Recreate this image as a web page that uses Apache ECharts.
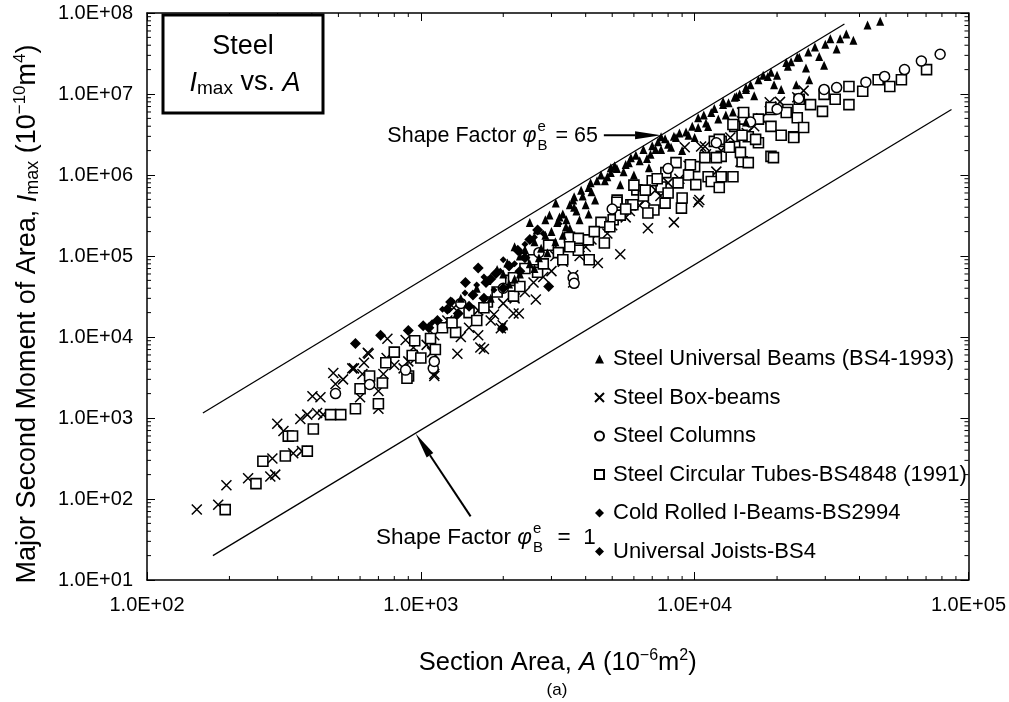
<!DOCTYPE html>
<html><head><meta charset="utf-8">
<script src="https://cdn.jsdelivr.net/npm/echarts@6/dist/echarts.min.js"></script>
<style>html,body{margin:0;padding:0;background:#fff}#c{width:1009px;height:702px}</style>
</head><body><div id="c"></div>
<script>
const FONT = "'Liberation Sans', Arial, Helvetica, sans-serif";

// ---- axis ticks ----
const xTicks = [1e2, 1e3, 1e4, 1e5];
const xTickLabels = ['1.0E+02', '1.0E+03', '1.0E+04', '1.0E+05'];
const yTicks = [1e1, 1e2, 1e3, 1e4, 1e5, 1e6, 1e7, 1e8];
const yTickLabels = ['1.0E+01', '1.0E+02', '1.0E+03', '1.0E+04', '1.0E+05', '1.0E+06', '1.0E+07', '1.0E+08'];
const minorMult = [2, 3, 4, 5, 6, 7, 8, 9];

// ---- series names ----
const seriesNames = [
  'Steel Universal Beams (BS4-1993)',
  'Steel Box-beams',
  'Steel Columns',
  'Steel Circular Tubes-BS4848 (1991)',
  'Cold Rolled I-Beams-BS2994',
  'Universal Joists-BS4'
];

// ---- data [A (1e-6 m2), Imax (1e-10 m4)] ----
const universalBeams = [
  [1600,4.0e4],[1900,6.8e4],[2070,8.2e4],[2300,1.0e5],[2500,2.6e5],[2600,1.5e5],[2750,1.25e5],[2850,1.8e5],[2850,2.8e5],[3000,2.0e5],
  [3110,4.5e5],[3210,3.03e5],[3300,3.3e5],[3390,2.3e5],[3400,2.8e5],[3600,4.9e5],[3630,4.0e5],[3630,5.4e5],[3700,3.6e5],[3850,6.5e5],
  [4000,4.3e5],[4170,8.0e5],[4200,6.2e5],[4330,4.9e5],[4550,1.0e6],[4700,8.5e5],[4940,1.07e6],[4940,1.23e6],[5200,1.2e6],[5350,7.6e5],
  [5500,1.1e6],[5750,1.42e6],[5850,1.63e6],[6000,1.0e6],[6300,1.5e6],[6500,2.06e6],[6810,1.23e6],[6900,1.8e6],[7200,2.06e6],[7350,2.57e6],
  [7540,2.06e6],[7540,2.97e6],[8000,2.4e6],[8400,3.0e6],[8550,2.9e6],[9000,2.0e6],[9300,3.4e6],[9500,3.1e6],[10000,2.9e6],[10300,3.86e6],
  [10300,5.1e6],[11000,4.4e6],[11200,3.98e6],[11500,5.9e6],[12200,4.9e6],[12700,7.4e6],[12700,8.1e6],[13000,5.5e6],[13800,6.0e6],[14000,9.1e6],
  [14200,9.3e6],[15400,4.5e6],[15400,1.14e7],[15400,1.2e7],[16500,9.5e6],[17100,1.5e7],[18500,1.65e7],[19500,1.3e7],[20700,1.14e7],[21600,2.45e7],
  [21900,2.2e7],[23500,1.3e7],[23700,2.85e7],[24100,2.85e7],[25500,2.1e7],[26200,1.5e7],[27500,3.8e7],[28500,2.9e7],[29700,2.26e7],[31300,4.8e7],
  [33000,3.6e7],[35800,5.5e7],[38000,4.6e7],[42800,7.1e7],[47600,7.9e7],
  [1400,3.0e4],[1750,5.0e4],[2000,6.0e4],[2200,1.3e5],[2400,1.2e5],[2650,2.1e5],[2950,3.2e5],[3150,2.6e5],[3500,4.3e5],[3900,5.5e5],
  [4100,7.0e5],[4400,8.5e5],[4800,9.5e5],[5100,1.3e6],[5600,1.35e6],[6100,1.75e6],[6700,1.6e6],[7000,2.3e6],[7800,2.8e6],[8200,2.2e6],
  [8800,3.3e6],[9800,4.0e6],[10800,5.5e6],[11800,6.6e6],[13300,7.8e6],[14600,1.0e7],[16000,1.3e7],[17800,1.7e7],[19000,1.85e7],[20000,1.7e7],
  [22500,2.5e7],[26000,3.3e7],[30000,4.1e7],[34000,4.8e7],
  [1800,3.0e4],[2100,4.5e4],[2200,5.2e4],[2300,6.0e4],[2500,8.0e4],[2600,7.0e4],[2700,9.5e4],[2900,1.1e5],[3100,1.5e5],[3300,1.8e5],
  [3500,2.2e5],[3800,2.8e5],[4100,3.3e5]
];
const boxBeams = [
  [152,74],[182,85],[195,148],[234,180],[282,190],[294,200],[287,316],[342,368],[368,390],[299,850],
  [315,690],[363,973],[385,1100],[402,1860],[418,1150],[440,1100],[479,3600],[488,2630],[562,4100],[570,4100],
  [612,3500],[620,4800],[640,6400],[645,6200],[700,2160],[700,1300],[730,3500],[755,9500],[800,4500],[865,4100],
  [880,9200],[940,7400],[960,5500],[1050,8000],[1120,10500],[1120,3500],[1120,3300],[1250,16000],[1320,23000],[1360,6200],
  [1500,13000],[1620,21300],[1620,10500],[1650,7400],[1700,7100],[1850,19000],[1960,12800],[1990,14000],[2180,19500],[2280,19500],
  [2400,36000],[2580,47000],[2630,29000],[3000,65000],[3300,85000],[3600,47000],[3600,58000],[4000,130000],[4430,82000],[4800,190000],
  [5350,105000],[5600,300000],[6300,420000],[6750,220000],[7500,550000],[8400,260000],[8800,900000],[10300,460000],[10400,490000],[9200,2.2e6],
  [10560,2.25e6],[10900,2.25e6],[12000,1.1e6],[13500,2.9e6],[14700,1.46e6],[14900,5.9e6],[16500,4.0e6],[18800,7.9e6],[19000,7.0e6],[23700,9.1e6],
  [25000,1.1e7],
  [2000,2.6e4],[2200,3.0e4],[2800,5.5e4],[3100,1.0e5],[3800,1.0e5],[4200,1.6e5],[5000,2.4e5],[5800,3.6e5],[6600,5.0e5],[7200,6.5e5],
  [8000,8.0e5],[9500,1.3e6],[11000,1.8e6],[12500,2.0e6],[15500,3.3e6],[17500,5.0e6],[20500,8.0e6],[1400,1.0e4],[1800,1.6e4],[1100,6500],
  [900,5000],[750,5500],[520,3000],[430,1800],[600,1800]
];
const steelColumns = [
  [488,2000],[650,2600],[880,3900],[1110,4100],[1120,5000],[1400,26000],[2000,40000],[2700,110000],[3600,54000],[3630,46000],
  [5000,380000],[8000,1.2e6],[12000,2.5e6],[16000,4.5e6],[20000,6.5e6],[24000,8.8e6],[29700,1.14e7],[33000,1.2e7],[42200,1.4e7],[49400,1.65e7],
  [58400,2.0e7],[67300,2.55e7],[78800,3.1e7]
];
const circularTubes = [
  [193,74],[250,155],[265,293],[320,340],[385,390],[328,597],[405,730],[340,600],[468,1100],[510,1100],
  [577,1300],[600,2300],[700,1500],[724,2700],[745,4800],[902,3300],[890,3100],[930,5900],[1085,9600],[1130,7000],
  [1340,11400],[2130,50000],[2180,32000],[1750,27000],[2580,90000],[2985,136000],[2930,136000],[3180,110000],[3490,170000],[4090,158000],
  [4550,260000],[5040,280000],[5210,490000],[5850,430000],[6150,655000],[7100,370000],[4120,90000],[3760,118000],[3760,165000],[2180,54000],
  [2670,63000],[4680,145000],[5350,320000],[5950,430000],[6750,340000],[8950,390000],[5200,460000],
  [19000,6.44e6],[21900,6.44e6],[23000,2.97e6],[19000,1.7e6],[17100,2.5e6],[15100,4.9e6],[14000,3.98e6],[15700,2.97e6],[14000,2.25e6],[12500,1.7e6],
  [14900,1.46e6],[13800,4.2e6],[12500,2.6e6],[11800,2.6e6],[10900,1.64e6],[10000,1.27e6],[8550,1.42e6],[9500,1.0e6],[7850,1.07e6],[11200,9.5e5],
  [12500,9.5e5],[13800,9.5e5],[10100,7.6e5],[8700,8.0e5],[7540,7.1e5],[9650,1.34e6],[11500,8.3e5],[12300,7.0e5],[12000,1.64e6],[12300,2.75e6],
  [13400,2.2e6],[14700,1.9e6],[15700,1.42e6],[14900,3.1e6],[15100,5.9e6],[17100,4.9e6],[16700,2.75e6],[19400,1.64e6],[19000,6.8e6],[19000,3.98e6],
  [20700,3.1e6],[21600,5.9e6],[23000,2.9e6],[23700,5.1e6],[25000,3.86e6],[24100,8.6e6],[26500,7.4e6],[29300,6.1e6],[29700,9.9e6],[32600,8.6e6],
  [36600,1.24e7],[36600,7.4e6],[41100,1.08e7],[46800,1.5e7],[51600,1.24e7],[56900,1.5e7],[70300,2.0e7],
  [6500,5.5e5],[7000,8.5e5],[8000,6.0e5],[9000,5.2e5],[6000,7.5e5],[7800,4.5e5],[4300,2.0e5],[3300,9.0e4],[2400,7.0e4],[1500,2.0e4],
  [1600,1.6e4],[1200,1.3e4],[950,9.0e3],[800,6.5e3],[1000,5.5e3],[650,3.3e3],
  [1300,1.5e4],[1700,2.3e4],[1900,3.6e4],[2300,4.2e4],[2800,8.0e4],[3500,1.3e5],[4900,2.3e5],[5600,3.8e5],[6600,6.5e5],[7300,9.0e5]
];
const coldRolled = [
  [577,8300],[713,10500],[1020,13800],[1070,13000],[1285,27000],[1370,19500],[1455,47000],[1620,71000],[1730,47000],[1880,61000],
  [1990,12800],[2260,118000],[2670,209000],[2930,42000],
  [900,12000],[1150,16000],[1250,22000],[1550,33000],[1800,52000],[2100,75000],[2400,95000],[2500,160000],
  [1500,24000],[1700,30000],[2000,40000],[2300,65000]
];
const universalJoists = [
  [1200,22000],[1350,18000],[1450,35000],[1700,55000],[1850,38000],[2000,90000],[2200,80000],[2400,140000],[2800,190000],[3200,250000],
  [1100,15000],[1300,28000],[1600,44000],[1950,65000],[2300,110000],[2600,170000]
];

// ---- shape factor lines ----
const upperLine = [[160, 1153], [35240, 7.31e7]];   // phi = 65
const lowerLine = [[174, 20], [86700, 6.44e6]];     // phi = 1
// annotation arrows (tail, tip) in data units
const arrow65 = [[4660, 3.1e6], [7540, 3.1e6]];
const arrow1 = [[1520, 61], [957, 643]];

// build minor tick data from the tick arrays
const xMinor = [];
xTicks.slice(0, -1).forEach(d => minorMult.forEach(m => xMinor.push([d * m, yTicks[0]])));
const yMinor = [];
yTicks.slice(0, -1).forEach(d => minorMult.forEach(m => yMinor.push([xTicks[0], d * m])));

function fmtLabel(ticks, labels) {
  return function (v) {
    const i = ticks.findIndex(t => Math.abs(Math.log10(t) - Math.log10(v)) < 1e-6);
    return i >= 0 ? labels[i] : '';
  };
}

const chart = echarts.init(document.getElementById('c'), null, { renderer: 'canvas' });

const axisCommon = {
  type: 'log', logBase: 10,
  axisLine: { show: true, lineStyle: { color: '#000', width: 1.5 } },
  axisTick: { show: true, inside: true, length: 8, lineStyle: { color: '#000', width: 1 } },
  splitLine: { show: false }, minorTick: { show: false }, minorSplitLine: { show: false }
};

const tickRender = (side) => function (params, api) {
  const cs = params.coordSys;
  const p = api.coord([api.value(0), api.value(1)]);
  const st = { stroke: '#000', lineWidth: 1 };
  if (side === 'x') {
    return { type: 'group', children: [
      { type: 'line', shape: { x1: p[0], y1: cs.y + cs.height, x2: p[0], y2: cs.y + cs.height - 4 }, style: st },
      { type: 'line', shape: { x1: p[0], y1: cs.y, x2: p[0], y2: cs.y + 4 }, style: st }
    ] };
  }
  return { type: 'group', children: [
    { type: 'line', shape: { x1: cs.x, y1: p[1], x2: cs.x + 4, y2: p[1] }, style: st },
    { type: 'line', shape: { x1: cs.x + cs.width, y1: p[1], x2: cs.x + cs.width - 4, y2: p[1] }, style: st }
  ] };
};

const crossPath = 'path://M0,0L10,10M10,0L0,10';

const option = {
  animation: false,
  backgroundColor: '#fff',
  textStyle: { fontFamily: FONT },
  grid: { left: 147, right: 40, top: 13, bottom: 122, containLabel: false },
  xAxis: [
    Object.assign({}, axisCommon, {
      min: xTicks[0], max: xTicks[xTicks.length - 1], position: 'bottom',
      axisLabel: { formatter: fmtLabel(xTicks, xTickLabels), color: '#000', fontSize: 20, fontFamily: FONT, margin: 15 },
      name: '{n|Section Area, }{i|A}{n| (10}{sup|−6}{n|m}{sup|2}{n|)}',
      nameLocation: 'middle', nameGap: 67,
      nameTextStyle: { rich: {
        n: { fontSize: 25.5, fontFamily: FONT, color: '#000', lineHeight: 32 },
        i: { fontSize: 25.5, fontFamily: FONT, fontStyle: 'italic', color: '#000', lineHeight: 32 },
        sup: { fontSize: 16, fontFamily: FONT, color: '#000', lineHeight: 32, padding: [0, 0, 15, 0] }
      } }
    }),
    Object.assign({}, axisCommon, {
      min: xTicks[0], max: xTicks[xTicks.length - 1], position: 'top',
      axisLabel: { show: false }
    })
  ],
  yAxis: [
    Object.assign({}, axisCommon, {
      min: yTicks[0], max: yTicks[yTicks.length - 1], position: 'left',
      axisLabel: { formatter: fmtLabel(yTicks, yTickLabels), color: '#000', fontSize: 20, fontFamily: FONT, margin: 14 }
    }),
    Object.assign({}, axisCommon, {
      min: yTicks[0], max: yTicks[yTicks.length - 1], position: 'right',
      axisLabel: { show: false }
    })
  ],
  legend: {
    orient: 'vertical', left: 589, top: 343, itemGap: 16.5, itemWidth: 9, itemHeight: 9,
    data: seriesNames,
    textStyle: { fontFamily: FONT, fontSize: 22, color: '#000', padding: [0, 0, 0, 4] },
    selectedMode: false
  },
  series: [
    { type: 'line', data: upperLine, showSymbol: false, symbol: 'none', silent: true,
      lineStyle: { color: '#000', width: 1.3 }, z: 1 },
    { type: 'line', data: lowerLine, showSymbol: false, symbol: 'none', silent: true,
      lineStyle: { color: '#000', width: 1.3 }, z: 1 },
    { name: seriesNames[1], type: 'scatter', data: boxBeams, symbol: crossPath, symbolSize: 10,
      itemStyle: { color: 'rgba(0,0,0,0)', borderColor: '#000', borderWidth: 1.5, opacity: 1 }, z: 2 },
    { name: seriesNames[3], type: 'scatter', data: circularTubes, symbol: 'rect', symbolSize: 10,
      itemStyle: { color: '#fff', borderColor: '#000', borderWidth: 1.6, opacity: 1 }, z: 3 },
    { name: seriesNames[2], type: 'scatter', data: steelColumns, symbol: 'circle', symbolSize: 10,
      itemStyle: { color: '#fff', borderColor: '#000', borderWidth: 1.5, opacity: 1 }, z: 4 },
    { name: seriesNames[0], type: 'scatter', data: universalBeams, symbol: 'triangle', symbolSize: [8, 9],
      itemStyle: { color: '#000', opacity: 1 }, z: 5 },
    { name: seriesNames[4], type: 'scatter', data: coldRolled, symbol: 'diamond', symbolSize: 11,
      itemStyle: { color: '#000', opacity: 1 }, z: 6 },
    { name: seriesNames[5], type: 'scatter', data: universalJoists, symbol: 'diamond', symbolSize: 7,
      itemStyle: { color: '#000', opacity: 1 }, z: 6 },
    { type: 'custom', data: xMinor, renderItem: tickRender('x'), silent: true, clip: false, z: 10 },
    { type: 'custom', data: yMinor, renderItem: tickRender('y'), silent: true, clip: false, z: 10 }
  ]
};
chart.setOption(option);

// ---- annotations ----
const ctx = document.createElement('canvas').getContext('2d');
function tw(t, size, style) { ctx.font = (style || 'normal') + ' ' + size + 'px ' + FONT; return ctx.measureText(t).width; }
function px(d) { return chart.convertToPixel({ xAxisIndex: 0, yAxisIndex: 0 }, d); }
function arrowEls(tail, tip) {
  const dx = tip[0] - tail[0], dy = tip[1] - tail[1];
  const L = Math.hypot(dx, dy), ux = dx / L, uy = dy / L;
  const hl = 26, hw = 4;
  const bx = tip[0] - ux * hl, by = tip[1] - uy * hl;
  return [
    { type: 'line', shape: { x1: tail[0], y1: tail[1], x2: bx, y2: by }, style: { stroke: '#000', lineWidth: 2 }, z: 20 },
    { type: 'polygon', shape: { points: [[tip[0], tip[1]], [bx - uy * hw, by + ux * hw], [bx + uy * hw, by - ux * hw]] },
      style: { fill: '#000' }, z: 20 }
  ];
}
function shapeLabel(x, y, value, s, eqText) {
  // "Shape Factor φ" + stacked e/B + " = value", left edge at x, middle at y
  const ss = Math.round(s * 0.68);
  const w1 = tw('Shape Factor ', s);
  const w2 = tw('φ', s, 'italic');
  const wsup = Math.max(tw('e', ss), tw('B', ss));
  const eq = eqText + value;
  const els = [
    { type: 'text', x: x, y: y, style: { text: 'Shape Factor ', fontSize: s, fontFamily: FONT, fill: '#000', verticalAlign: 'middle', align: 'left' }, z: 20 },
    { type: 'text', x: x + w1, y: y, style: { text: 'φ', fontSize: s, fontFamily: FONT, fontStyle: 'italic', fill: '#000', verticalAlign: 'middle', align: 'left' }, z: 20 },
    { type: 'text', x: x + w1 + w2 + 1, y: y - 9, style: { text: 'e', fontSize: ss, fontFamily: FONT, fill: '#000', verticalAlign: 'middle', align: 'left' }, z: 20 },
    { type: 'text', x: x + w1 + w2 + 1, y: y + 10, style: { text: 'B', fontSize: ss, fontFamily: FONT, fill: '#000', verticalAlign: 'middle', align: 'left' }, z: 20 },
    { type: 'text', x: x + w1 + w2 + wsup + 3, y: y, style: { text: eq, fontSize: s, fontFamily: FONT, fill: '#000', verticalAlign: 'middle', align: 'left' }, z: 20 }
  ];
  const total = w1 + w2 + wsup + 3 + tw(eq, s);
  return { els, total };
}

const t65 = px(arrow65[0]), h65 = px(arrow65[1]);
const t1 = px(arrow1[0]), h1 = px(arrow1[1]);
const lab65m = shapeLabel(0, 0, '65', 21.5, ' = ');
const lab65 = shapeLabel(t65[0] - 6 - lab65m.total, t65[1] + 1, '65', 21.5, ' = ');
const lab1 = shapeLabel(376, t1[1] + 21, '1', 22.5, '  =  ');

const graphic = [].concat(
  arrowEls(t65, h65), arrowEls(t1, h1), lab65.els, lab1.els,
  [
    { type: 'rect', shape: { x: 163, y: 15, width: 160, height: 98 }, style: { fill: '#fff', stroke: '#000', lineWidth: 3 }, z: 20 },
    { type: 'text', x: 243, y: 47, style: { text: 'Steel', fontSize: 27, fontFamily: FONT, fill: '#000', align: 'center', verticalAlign: 'middle' }, z: 21 },
    { type: 'text', x: 245, y: 83, style: {
        text: '{i|I}{s|max}{n| vs. }{i|A}', align: 'center', verticalAlign: 'middle',
        rich: {
          i: { fontSize: 27, fontFamily: FONT, fontStyle: 'italic', fill: '#000', lineHeight: 30 },
          n: { fontSize: 27, fontFamily: FONT, fill: '#000', lineHeight: 30 },
          s: { fontSize: 19, fontFamily: FONT, fill: '#000', lineHeight: 30, padding: [11, 0, 0, 0] }
        } }, z: 21 },
    // y axis title (rotated)
    { type: 'text', x: 28, y: 314, rotation: Math.PI / 2, style: {
        text: '{n|Major Second Moment of Area, }{i|I}{sub|max}{n| (10}{sup|−10}{n|m}{sup|4}{n|)}',
        align: 'center', verticalAlign: 'middle',
        rich: {
          n: { fontSize: 27, fontFamily: FONT, fill: '#000', lineHeight: 34 },
          i: { fontSize: 27, fontFamily: FONT, fontStyle: 'italic', fill: '#000', lineHeight: 34 },
          sub: { fontSize: 18, fontFamily: FONT, fill: '#000', lineHeight: 34, padding: [11, 0, 0, 0] },
          sup: { fontSize: 17, fontFamily: FONT, fill: '#000', lineHeight: 34, padding: [0, 0, 16, 0] }
        } }, z: 20 },
    { type: 'text', x: 557, y: 690, style: { text: '(a)', fontSize: 17, fontFamily: FONT, fill: '#000', align: 'center', verticalAlign: 'middle' }, z: 20 }
  ]
);
chart.setOption({ graphic: graphic });
</script>
</body></html>
